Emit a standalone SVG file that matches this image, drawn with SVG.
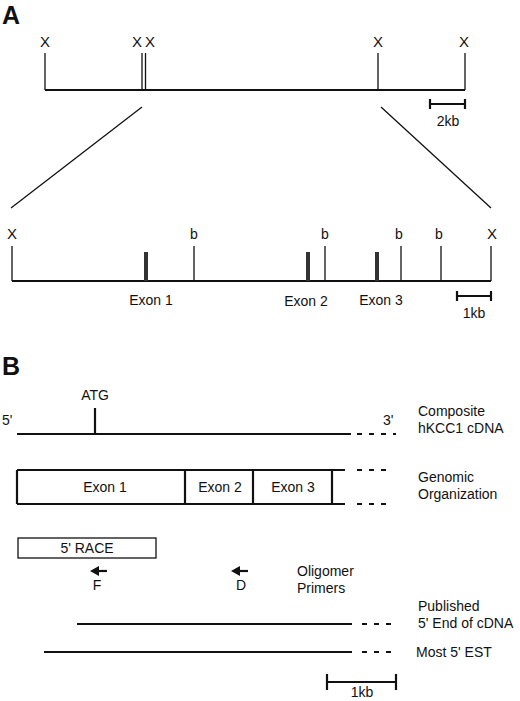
<svg xmlns="http://www.w3.org/2000/svg" width="520" height="701" viewBox="0 0 520 701">
<style>
text{font-family:"Liberation Sans",Arial,sans-serif;fill:#111}
.t{font-size:14px}
.s{font-size:14px}
.x{font-size:15px}
.big{font-size:25px;font-weight:bold}
.m{text-anchor:middle}
.ln{stroke:#111;fill:none}
.th{stroke-width:2.2}
.tk{stroke-width:1.3}
.d{stroke-width:2.2;stroke-dasharray:5 7}
</style>
<rect width="520" height="701" fill="#fff"/>
<g id="panelA">
<text class="big" x="2" y="24">A</text>
<g id="mapTop">
<line class="ln th" x1="45" y1="90" x2="465" y2="90"/>
<line class="ln tk" x1="45" y1="53" x2="45" y2="90"/>
<line class="ln tk" x1="142" y1="53" x2="142" y2="90"/>
<line class="ln tk" x1="145.5" y1="53" x2="145.5" y2="90"/>
<line class="ln tk" x1="378" y1="53" x2="378" y2="90"/>
<line class="ln tk" x1="465" y1="53" x2="465" y2="90"/>
<text class="x m" x="45" y="47">X</text>
<text class="x m" x="137" y="47">X</text>
<text class="x m" x="150" y="47">X</text>
<text class="x m" x="378" y="47">X</text>
<text class="x m" x="464" y="47">X</text>
</g>
<g id="scale2kb">
<line class="ln th" x1="430" y1="104" x2="465" y2="104"/>
<line class="ln th" x1="430" y1="99" x2="430" y2="109"/>
<line class="ln th" x1="465" y1="99" x2="465" y2="109"/>
<text class="s m" x="448" y="126">2kb</text>
</g>
<g id="zoomLines">
<line class="ln tk" x1="142" y1="107" x2="11" y2="208"/>
<line class="ln tk" x1="381" y1="107" x2="491" y2="208"/>
</g>
<g id="mapDetail">
<line class="ln th" x1="12" y1="281" x2="491" y2="281"/>
<line class="ln tk" x1="12" y1="246" x2="12" y2="281"/>
<line class="ln tk" x1="491" y1="246" x2="491" y2="281"/>
<line class="ln tk" x1="194" y1="246" x2="194" y2="281"/>
<line class="ln tk" x1="325" y1="246" x2="325" y2="281"/>
<line class="ln tk" x1="401" y1="246" x2="401" y2="281"/>
<line class="ln tk" x1="441" y1="246" x2="441" y2="281"/>
<text class="x m" x="12" y="239">X</text>
<text class="x m" x="492" y="239">X</text>
<text class="s m" x="194" y="239">b</text>
<text class="s m" x="325" y="239">b</text>
<text class="s m" x="399" y="239">b</text>
<text class="s m" x="439" y="239">b</text>
<rect x="144" y="252" width="4" height="29" fill="#333"/>
<rect x="306" y="252" width="4" height="29" fill="#333"/>
<rect x="375" y="252" width="4" height="29" fill="#333"/>
<text class="t m" x="151" y="305">Exon 1</text>
<text class="t m" x="306" y="306">Exon 2</text>
<text class="t m" x="381" y="305">Exon 3</text>
</g>
<g id="scale1kbA">
<line class="ln th" x1="457" y1="296" x2="491" y2="296"/>
<line class="ln th" x1="457" y1="291" x2="457" y2="301"/>
<line class="ln th" x1="491" y1="291" x2="491" y2="301"/>
<text class="s m" x="474" y="318">1kb</text>
</g>
</g>
<g id="panelB">
<text class="big" x="2" y="375">B</text>
<g id="cdna">
<line class="ln th" x1="17" y1="434" x2="351" y2="434"/>
<line class="ln d" x1="357" y1="434" x2="396" y2="434"/>
<line class="ln th" x1="95" y1="408" x2="95" y2="434"/>
<text class="t m" x="95" y="400">ATG</text>
<text class="t" x="2" y="425">5'</text>
<text class="t" x="383" y="425">3'</text>
<text class="t" x="418" y="416">Composite</text>
<text class="t" x="418" y="433">hKCC1 cDNA</text>
</g>
<g id="genomic">
<line class="ln th" x1="17" y1="470" x2="345" y2="470"/>
<line class="ln th" x1="17" y1="504" x2="345" y2="504"/>
<line class="ln th" x1="17" y1="470" x2="17" y2="504"/>
<line class="ln th" x1="185" y1="470" x2="185" y2="504"/>
<line class="ln th" x1="253" y1="470" x2="253" y2="504"/>
<line class="ln th" x1="332" y1="470" x2="332" y2="504"/>
<line class="ln d" x1="357" y1="470" x2="392" y2="470"/>
<line class="ln d" x1="357" y1="504" x2="392" y2="504"/>
<text class="t m" x="105" y="492">Exon 1</text>
<text class="t m" x="220" y="492">Exon 2</text>
<text class="t m" x="293" y="492">Exon 3</text>
<text class="t" x="418" y="482">Genomic</text>
<text class="t" x="418" y="499">Organization</text>
</g>
<g id="race">
<rect x="18" y="538" width="138" height="20" fill="#fff" stroke="#111" stroke-width="1.3"/>
<text class="t m" x="87" y="553">5' RACE</text>
</g>
<g id="primers">
<line class="ln th" x1="96" y1="571" x2="107" y2="571"/>
<polygon points="90,571 99,566 99,576" fill="#111"/>
<text class="t m" x="97" y="590">F</text>
<line class="ln th" x1="236" y1="571" x2="248" y2="571"/>
<polygon points="231,571 240,566 240,576" fill="#111"/>
<text class="t m" x="241" y="590">D</text>
<text class="t" x="297" y="576">Oligomer</text>
<text class="t" x="297" y="593">Primers</text>
</g>
<g id="published">
<line class="ln th" x1="77" y1="624" x2="352" y2="624"/>
<line class="ln d" x1="362" y1="624" x2="398" y2="624"/>
<text class="t" x="418" y="611">Published</text>
<text class="t" x="418" y="628">5' End of cDNA</text>
</g>
<g id="est">
<line class="ln th" x1="44" y1="652" x2="352" y2="652"/>
<line class="ln d" x1="362" y1="652" x2="398" y2="652"/>
<text class="t" x="416" y="657">Most 5' EST</text>
</g>
<g id="scale1kbB">
<line class="ln th" x1="327" y1="682" x2="396" y2="682"/>
<line class="ln th" x1="327" y1="674" x2="327" y2="690"/>
<line class="ln th" x1="396" y1="674" x2="396" y2="690"/>
<text class="s m" x="362" y="697">1kb</text>
</g>
</g>
</svg>
